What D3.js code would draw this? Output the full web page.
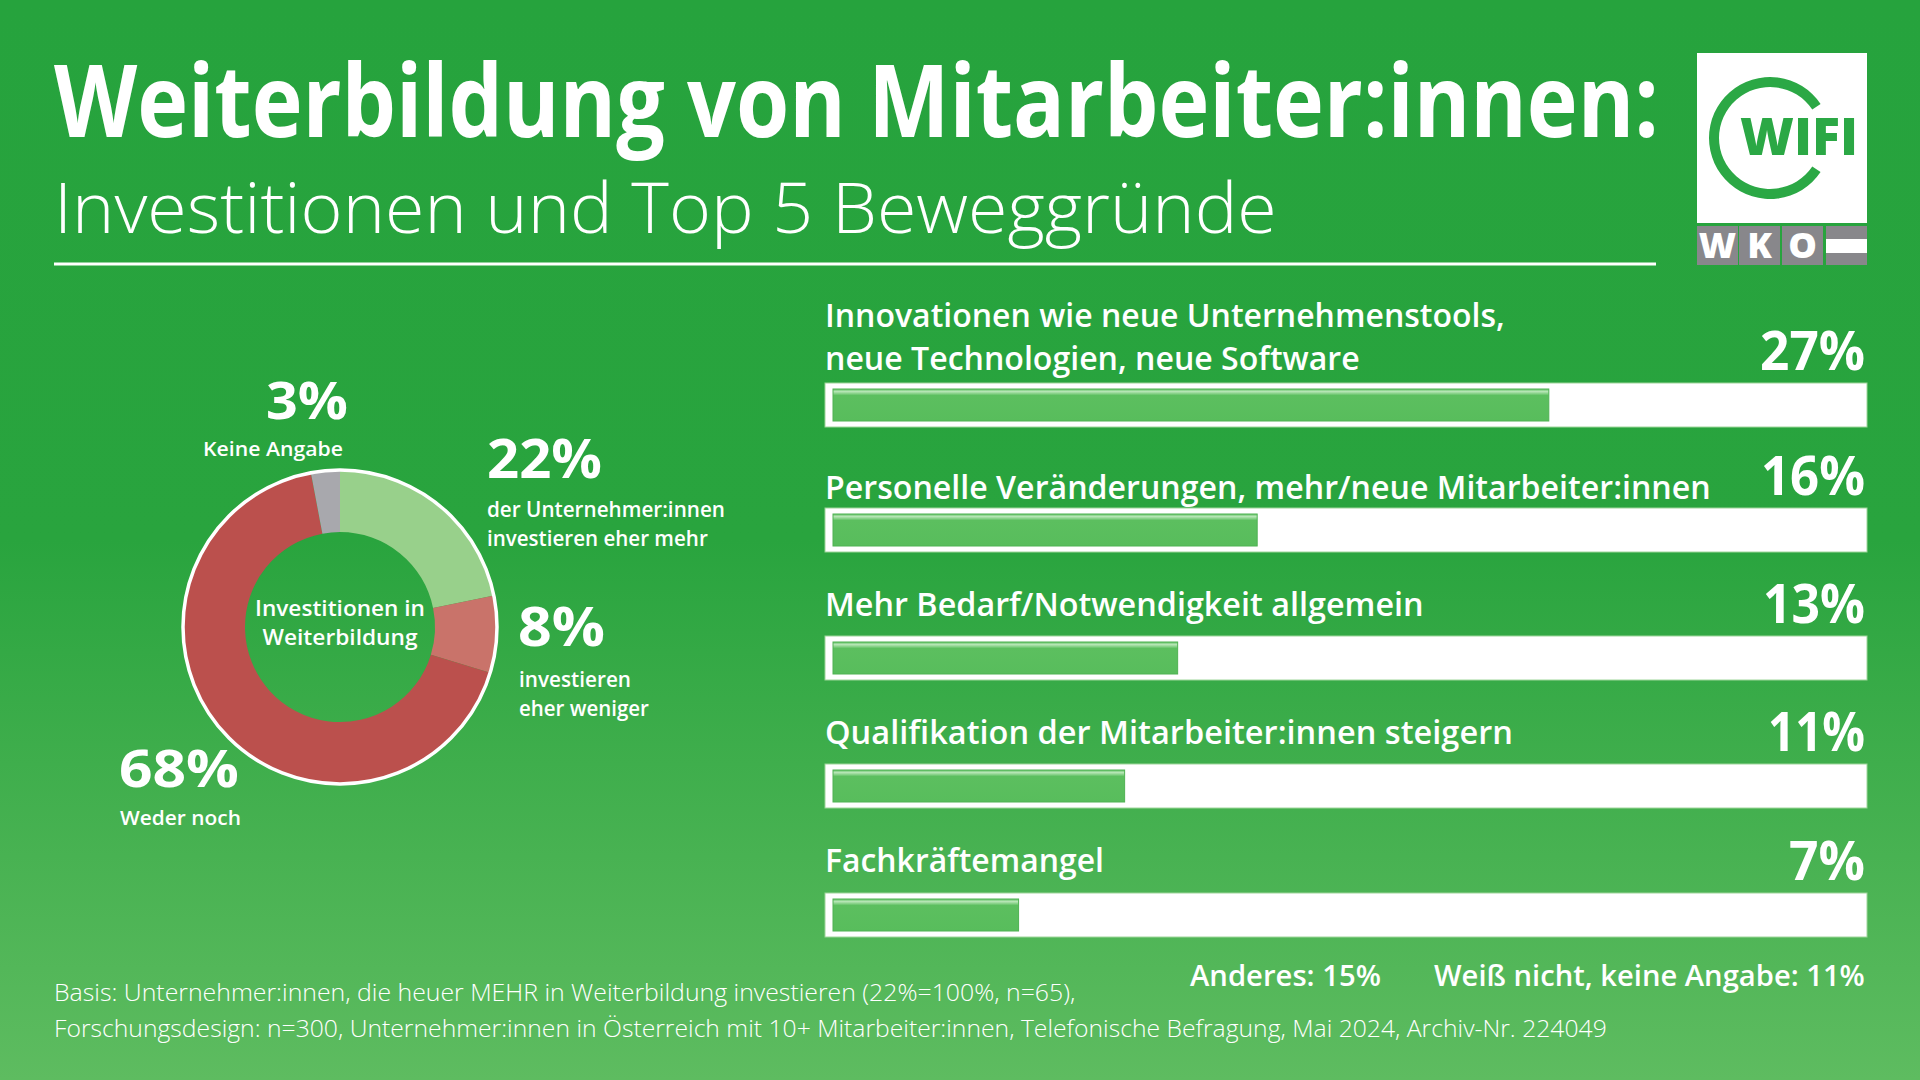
<!DOCTYPE html>
<html><head><meta charset="utf-8">
<script src="https://cdn.jsdelivr.net/npm/d3@7"></script>
<style>
html,body{margin:0;padding:0;background:#27a33e;}
svg{display:block;}
text{font-family:"Open Sans","Noto Sans",sans-serif;fill:#fff;}
</style></head>
<body>
<script>
// ---------- DATA ----------
const titleText = "Weiterbildung von Mitarbeiter:innen:";
const subtitleText = "Investitionen und Top 5 Beweggründe";
const donutCategories = ["investieren eher mehr", "investieren eher weniger", "Weder noch", "Keine Angabe"];
const donutValues = [22, 8, 68, 3];
const donutColors = ["#98d08b", "#c9736a", "#bb504d", "#a8a8ad"];
const centerLabel = ["Investitionen in", "Weiterbildung"];
const reasonLines = [
  ["Innovationen wie neue Unternehmenstools,", "neue Technologien, neue Software"],
  ["Personelle Veränderungen, mehr/neue Mitarbeiter:innen"],
  ["Mehr Bedarf/Notwendigkeit allgemein"],
  ["Qualifikation der Mitarbeiter:innen steigern"],
  ["Fachkräftemangel"]
];
const reasonValues = [27, 16, 13, 11, 7];
const otherNotes = ["Anderes: 15%", "Weiß nicht, keine Angabe: 11%"];
const footnotes = [
  "Basis: Unternehmer:innen, die heuer MEHR in Weiterbildung investieren (22%=100%, n=65),",
  "Forschungsdesign: n=300, Unternehmer:innen in Österreich mit 10+ Mitarbeiter:innen, Telefonische Befragung, Mai 2024, Archiv-Nr. 224049"
];

// ---------- SETUP ----------
const W = 1920, H = 1080;
const svg = d3.select("body").append("svg").attr("width", W).attr("height", H);
const defs = svg.append("defs");
const bg = defs.append("linearGradient").attr("id","bg").attr("x1",0).attr("y1",0).attr("x2",0).attr("y2",1);
bg.append("stop").attr("offset","0%").attr("stop-color","#26a33d");
bg.append("stop").attr("offset","50%").attr("stop-color","#29a43e");
bg.append("stop").attr("offset","100%").attr("stop-color","#5ebc60");
const bf = defs.append("linearGradient").attr("id","barfill").attr("x1",0).attr("y1",0).attr("x2",0).attr("y2",1);
bf.append("stop").attr("offset","0%").attr("stop-color","#62c265");
bf.append("stop").attr("offset","8%").attr("stop-color","#b7e6b6");
bf.append("stop").attr("offset","20%").attr("stop-color","#5cbf5f");
bf.append("stop").attr("offset","100%").attr("stop-color","#58bd5c");
svg.append("rect").attr("width",W).attr("height",H).attr("fill","url(#bg)");

// place a text at (x,y) and condense it horizontally to width w
function place(parent, x, y, size, weight, txt, w, anchor){
  const t = parent.append("text").attr("x",0).attr("y",0).attr("font-size",size)
    .attr("font-weight",weight).attr("text-anchor",anchor||"start").text(txt);
  const nat = t.node().getComputedTextLength();
  const k = w ? w/nat : 1;
  t.attr("transform",`translate(${x},${y}) scale(${k},1)`);
  return t;
}

// ---------- TITLE ----------
place(svg,54,137,100,700,titleText,1605);
place(svg,54,233,70,300,subtitleText,1223);
svg.append("line").attr("x1",54).attr("x2",1656).attr("y1",264).attr("y2",264).attr("stroke","#fff").attr("stroke-width",3);

// ---------- LOGO ----------
const logo = svg.append("g");
logo.append("rect").attr("x",1697).attr("y",53).attr("width",170).attr("height",170).attr("fill","#fff");
const arc0 = d3.arc().innerRadius(51).outerRadius(61).startAngle(124*Math.PI/180).endAngle(416*Math.PI/180);
logo.append("path").attr("d",arc0()).attr("transform","translate(1770,138)").attr("fill","#2ba845");
place(logo,1740,155,52,800,"WIFI",118).style("fill","#2ba845");
const wko = ["W","K","O",""];
const bx = [1697,1739,1782,1826];
wko.forEach((l,i)=>{
  const x0 = bx[i];
  logo.append("rect").attr("x",x0).attr("y",226).attr("width",41).attr("height",39).attr("fill","#88878b");
  if(l) place(logo,x0+20.5,258,36,800,l,null,"middle");
  else logo.append("rect").attr("x",x0).attr("y",239).attr("width",41).attr("height",14).attr("fill","#fff");
});

// ---------- DONUT ----------
const cx = 340, cy = 627;
const pie = d3.pie().sort(null).value(d=>d)(donutValues);
const arc = d3.arc().innerRadius(95).outerRadius(156);
const dg = svg.append("g").attr("transform",`translate(${cx},${cy})`);
dg.selectAll("path").data(pie).join("path").attr("d",arc).attr("fill",(d,i)=>donutColors[i]);
dg.append("circle").attr("r",157).attr("fill","none").attr("stroke","#fff").attr("stroke-width",3.5);
centerLabel.forEach((t,i)=>{
  place(dg,0,-11+i*29,21,600,t,i===0?170:155,"middle");
});

const dl = svg.append("g");
// 3% Keine Angabe
place(dl,266,419,52,700,donutValues[3]+"%",82);
place(dl,203,456,20.5,600,donutCategories[3],140);
// 22%
place(dl,487,478,53,700,donutValues[0]+"%",115);
place(dl,487,517,21,600,"der Unternehmer:innen",238);
place(dl,487,546,21,600,donutCategories[0],221);
// 8%
place(dl,518,646,53,700,donutValues[1]+"%",87);
place(dl,519,687,21,600,"investieren",112);
place(dl,519,716,21,600,"eher weniger",130);
// 68%
place(dl,119,787,52,700,donutValues[2]+"%",120);
place(dl,120,825,20.5,600,donutCategories[2],121);

// ---------- BARS ----------
const trackTop = [383, 508, 636, 764, 893];
const labelBase = [[327,370],[499],[616],[744],[872]];
const x = d3.scaleLinear().domain([0, 38.7]).range([833, 1859]);
const labelWidths = [[680,535],[886],[599],[688],[279]];
const valueWidths = [105,104,102,97,76];
const bg2 = svg.append("g");
reasonValues.forEach((v,i)=>{
  const t = trackTop[i];
  bg2.append("rect").attr("x",825).attr("y",t).attr("width",1042).attr("height",44).attr("fill","#fff")
    .attr("stroke","#9ed69a").attr("stroke-width",1);
  bg2.append("rect").attr("x",x(0)).attr("y",t+6).attr("width",x(v)-x(0)).attr("height",32)
    .attr("fill","url(#barfill)").attr("stroke","#4fb253").attr("stroke-width",1);
  reasonLines[i].forEach((ln,j)=>{
    place(bg2,825,labelBase[i][j],33,600,ln,labelWidths[i][j]);
  });
  place(bg2,1865,t-13,54,700,v+"%",valueWidths[i],"end");
});

// ---------- NOTES ----------
place(svg,1190,986,29,600,otherNotes[0],191);
place(svg,1434,986,29,600,otherNotes[1],431);
place(svg,54,1001,23,300,footnotes[0],1022);
place(svg,54,1037,23,300,footnotes[1],1554);
</script>
</body></html>
